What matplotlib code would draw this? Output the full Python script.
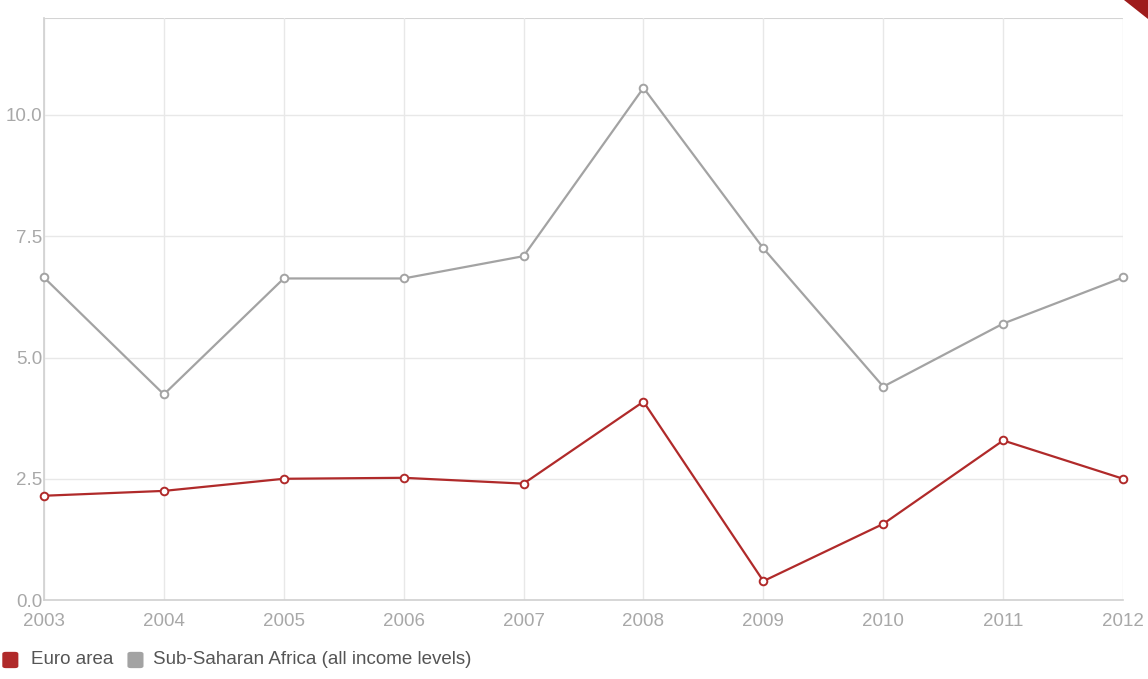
import matplotlib

matplotlib.use("Agg")
import matplotlib.pyplot as plt
from matplotlib.patches import FancyBboxPatch, Polygon

years = [2003, 2004, 2005, 2006, 2007, 2008, 2009, 2010, 2011, 2012]
euro_area = [2.15, 2.25, 2.50, 2.52, 2.40, 4.09, 0.39, 1.57, 3.29, 2.50]
sub_saharan = [6.65, 4.24, 6.63, 6.63, 7.09, 10.56, 7.25, 4.40, 5.70, 6.65]
y_ticks = [0.0, 2.5, 5.0, 7.5, 10.0]
series_names = ["Euro area", "Sub-Saharan Africa (all income levels)"]

RED = "#b02a2a"
GREY = "#a3a3a3"
TEXT = "#a8a8a8"
GRID = "#e8e8e8"

plt.rcParams["font.family"] = ["Liberation Sans Narrow", "Liberation Sans", "DejaVu Sans"]

fig = plt.figure(figsize=(11.48, 6.79), dpi=100)
ax = fig.add_axes([0.0383, 0.1163, 0.9400, 0.8572])

for vals, color in [(sub_saharan, GREY), (euro_area, RED)]:
    ax.plot(years, vals, color=color, linewidth=1.6, marker="o", markersize=5.5,
            markerfacecolor="white", markeredgecolor=color, markeredgewidth=1.4,
            zorder=3, clip_on=False)

ax.set_xlim(years[0], years[-1])
ax.set_ylim(0, 12)
ax.set_xticks(years)
ax.set_yticks(y_ticks)
ax.set_yticklabels([f"{v:.1f}" for v in y_ticks])
ax.grid(True, color=GRID, linewidth=1.0, zorder=0)
ax.axhline(12, color="#d4d4d4", linewidth=1.5, zorder=1)

for side in ["top", "right"]:
    ax.spines[side].set_visible(False)
for side in ["left", "bottom"]:
    ax.spines[side].set_color("#d0d0d0")
    ax.spines[side].set_linewidth(1.2)

ax.tick_params(axis="both", length=0, labelsize=13.5, labelcolor=TEXT)
ax.tick_params(axis="x", pad=9)
ax.tick_params(axis="y", pad=1)

# legend swatches along the bottom edge
legend_y = 0.017
for x0, color in [(0.003, RED), (0.112, GREY)]:
    fig.patches.append(FancyBboxPatch((x0, legend_y), 0.012, 0.022,
                                      boxstyle="round,pad=0.001,rounding_size=0.003",
                                      transform=fig.transFigure,
                                      facecolor=color, edgecolor="none"))
fig.text(0.027, legend_y + 0.011, series_names[0], fontsize=13.5, color="#555555", va="center")
fig.text(0.133, legend_y + 0.011, series_names[1], fontsize=13.5, color="#555555", va="center")

# small corner flag at the top right
fig.patches.append(Polygon([[0.979, 1.0], [1.0, 1.0], [1.0, 0.972]], closed=True,
                           transform=fig.transFigure, facecolor="#9e1b1b", edgecolor="none"))

fig.savefig("out.png", dpi=100, facecolor="white")
plt.close(fig)
